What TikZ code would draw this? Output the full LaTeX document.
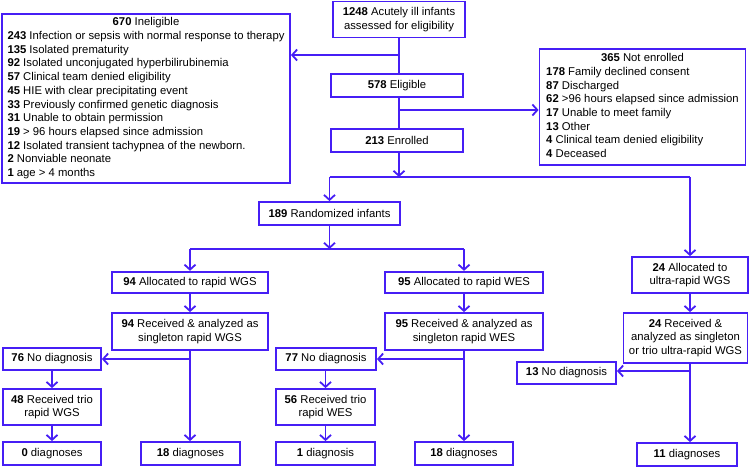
\documentclass[tikz,border=0pt]{standalone}
\usepackage{fontspec}
\setmainfont{Liberation Sans}
\usetikzlibrary{arrows.meta}
\definecolor{fc}{RGB}{70,30,245}
\begin{document}
\begin{tikzpicture}[x=1pt,y=-1pt,
  box/.style={draw=fc, line width=1.8pt, inner sep=0pt, align=center, font=\fontsize{11.3}{13.7}\selectfont},
  lbox/.style={draw=fc, line width=1.8pt, inner sep=0pt, font=\fontsize{11.3}{13.7}\selectfont},
  ln/.style={draw=fc, line width=1.8pt},
  arr/.style={ln, -{Straight Barb[length=5pt,width=11pt]}}]
\useasboundingbox (0,0) rectangle (749,467);
% top chain
\node[box, minimum width=132pt, minimum height=36pt] (b1248) at (399,19.5) {\textbf{1248} Acutely ill infants\\assessed for eligibility};
\node[box, minimum width=132pt, minimum height=23pt] (b578) at (397,85.5) {\textbf{578} Eligible};
\node[box, minimum width=132pt, minimum height=23pt] (b213) at (397,140.5) {\textbf{213} Enrolled};
\node[lbox, minimum width=288pt, minimum height=169pt] (inel) at (146,98.5) {\begin{tabular}{@{}l@{}}
\multicolumn{1}{@{}c@{}}{\textbf{670} Ineligible}\\
\textbf{243} Infection or sepsis with normal response to therapy\\
\textbf{135} Isolated prematurity\\
\textbf{92} Isolated unconjugated hyperbilirubinemia\\
\textbf{57} Clinical team denied eligibility\\
\textbf{45} HIE with clear precipitating event\\
\textbf{33} Previously confirmed genetic diagnosis\\
\textbf{31} Unable to obtain permission\\
\textbf{19} > 96 hours elapsed since admission\\
\textbf{12} Isolated transient tachypnea of the newborn.\\
\textbf{2} Nonviable neonate\\
\textbf{1} age > 4 months
\end{tabular}};
\node[lbox, minimum width=206pt, minimum height=116pt] (ne) at (642.5,107) {\begin{tabular}{@{}l@{}}
\multicolumn{1}{@{}c@{}}{\textbf{365} Not enrolled}\\
\textbf{178} Family declined consent\\
\textbf{87} Discharged\\
\textbf{62} >96 hours elapsed since admission\\
\textbf{17} Unable to meet family\\
\textbf{13} Other\\
\textbf{4} Clinical team denied eligibility\\
\textbf{4} Deceased
\end{tabular}};
% randomization
\node[box, minimum width=141pt, minimum height=23pt] (rand) at (329.5,213.5) {\textbf{189} Randomized infants};
\node[box, minimum width=156pt, minimum height=21.5pt] (a94) at (190,282.5) {\textbf{94} Allocated to rapid WGS};
\node[box, minimum width=156pt, minimum height=37pt] (r94) at (190,331.5) {\textbf{94} Received \& analyzed as\\singleton rapid WGS};
\node[box, minimum width=158pt, minimum height=21.5pt] (a95) at (464,282.5) {\textbf{95} Allocated to rapid WES};
\node[box, minimum width=158pt, minimum height=37pt] (r95) at (464,331.5) {\textbf{95} Received \& analyzed as\\singleton rapid WES};
\node[box, minimum width=116pt, minimum height=36pt] (a24) at (690,275) {\textbf{24} Allocated to\\ultra-rapid WGS};
\node[box, minimum width=124pt, minimum height=50pt] (r24) at (685.5,338) {\textbf{24} Received \&\\analyzed as singleton\\or trio ultra-rapid WGS};
% outcomes
\node[box, minimum width=98pt, minimum height=22pt] (n76) at (52,359) {\textbf{76} No diagnosis};
\node[box, minimum width=100pt, minimum height=22pt] (n77) at (326,359) {\textbf{77} No diagnosis};
\node[box, minimum width=99pt, minimum height=22pt] (n13) at (566.5,373) {\textbf{13} No diagnosis};
\node[box, minimum width=98pt, minimum height=36pt] (t48) at (52,407) {\textbf{48} Received trio\\rapid WGS};
\node[box, minimum width=99pt, minimum height=36pt] (t56) at (325.5,407) {\textbf{56} Received trio\\rapid WES};
\node[box, minimum width=98pt, minimum height=23pt] (d0) at (52,453.5) {\textbf{0} diagnoses};
\node[box, minimum width=99pt, minimum height=23pt] (d18a) at (190.5,453.5) {\textbf{18} diagnoses};
\node[box, minimum width=99pt, minimum height=23pt] (d1) at (325.5,453.5) {\textbf{1} diagnosis};
\node[box, minimum width=98pt, minimum height=23pt] (d18b) at (464,453.5) {\textbf{18} diagnoses};
\node[box, minimum width=100pt, minimum height=23pt] (d11) at (687,454.5) {\textbf{11} diagnoses};
% connectors top
\draw[ln] (b1248.south) -- (b1248.south |- b578.north);
\coordinate (j1) at (b1248.south |- 0,55);
\draw[arr] (j1) -- (j1 -| inel.east);
\draw[ln] (b1248.south |- b578.south) -- (b1248.south |- b213.north);
\coordinate (j2) at (b1248.south |- 0,110);
\draw[arr] (j2) -- (j2 -| ne.west);
\coordinate (j3) at (b1248.south |- 0,177);
\draw[arr] (b1248.south |- b213.south) -- (j3);
\coordinate (hL) at (rand.north |- j3);
\coordinate (hR) at (a24.north |- j3);
\draw[ln] (hL) -- (hR);
\draw[arr] (hL) -- (rand.north);
\draw[arr] (hR) -- (a24.north);
\coordinate (j4) at (rand.south |- 0,249);
\draw[arr] (rand.south) -- (j4);
\coordinate (hL2) at (a94.north |- j4);
\coordinate (hR2) at (a95.north |- j4);
\draw[ln] (hL2) -- (hR2);
\draw[arr] (hL2) -- (a94.north);
\draw[arr] (hR2) -- (a95.north);
\draw[arr] (a94.south) -- (r94.north);
\draw[arr] (a95.south) -- (r95.north);
\draw[arr] (a24.south) -- (a24.south |- r24.north);
% singleton outcomes
\draw[arr] (r94.south) -- (r94.south |- d18a.north);
\coordinate (k1) at (r94.south |- n76.east);
\draw[arr] (k1) -- (n76.east);
\draw[arr] (r95.south) -- (r95.south |- d18b.north);
\coordinate (k2) at (r95.south |- n77.east);
\draw[arr] (k2) -- (n77.east);
\coordinate (k3a) at (a24.south |- r24.south);
\draw[arr] (k3a) -- (k3a |- d11.north);
\coordinate (k3) at (k3a |- 0,371);
\draw[arr] (k3) -- (k3 -| n13.east);
% trio chains
\draw[arr] (n76.south) -- (t48.north);
\draw[arr] (t48.south) -- (d0.north);
\draw[arr] (n77.south -| t56.north) -- (t56.north);
\draw[arr] (t56.south) -- (d1.north);
\end{tikzpicture}
\end{document}
